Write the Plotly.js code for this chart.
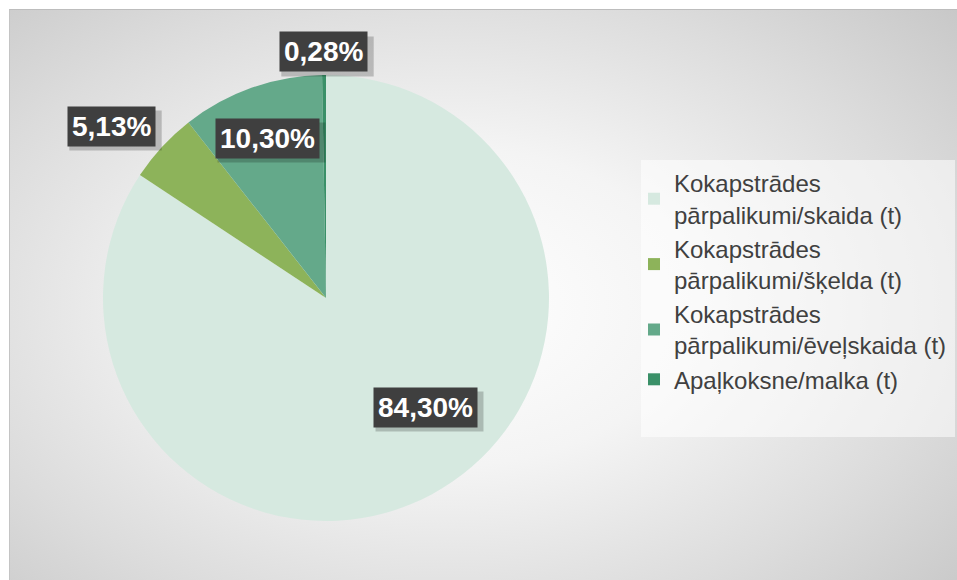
<!DOCTYPE html>
<html>
<head>
<meta charset="utf-8">
<script src="https://cdn.plot.ly/plotly-3.0.1.min.js"></script>
<style>
  html, body { margin: 0; padding: 0; background: #ffffff; }
  #panel {
    position: absolute; left: 9px; top: 9px; width: 948px; height: 571px;
    box-sizing: border-box; border-top: 1px solid #bdbdbd; border-left: 1px solid #c4c4c4;
    background: radial-gradient(ellipse 75% 80% at 46% 52%, #ffffff 0%, #f4f4f4 35%, #dcdcdc 70%, #c6c6c6 100%);
  }
  #chart { position: absolute; left: 0; top: 0; width: 957px; height: 580px; }
</style>
</head>
<body>
<div id="panel"></div>
<div id="chart"></div>
<script>
// ---- data ----
const categories = [
  "Kokapstrādes<br>pārpalikumi/skaida (t)",
  "Kokapstrādes<br>pārpalikumi/šķelda (t)",
  "Kokapstrādes<br>pārpalikumi/ēveļskaida (t)",
  "Apaļkoksne/malka (t)"
];
const shares = [84.30, 5.13, 10.30, 0.28];

// ---- styles / layout positions (not data) ----
const sliceColors = ["#d6e9e0", "#8db35a", "#64a98a", "#3a9068"];
// label box centres in pixels (x from left, y from top)
const labelPx = [[425, 407], [111, 126], [267, 138], [323, 52]];
const labelSize = 28;

const W = 957, H = 580;
const fmt = v => v.toFixed(2).replace('.', ',') + '%';

const trace = {
  type: 'pie',
  labels: categories,
  values: shares,
  sort: false,
  direction: 'clockwise',
  rotation: 0,
  marker: { colors: sliceColors, line: { width: 0 } },
  textinfo: 'none',
  hoverinfo: 'skip',
  domain: { x: [103 / W, 549 / W], y: [(H - 521) / H, (H - 75) / H] }
};

const annotations = [];
const shapes = [{
  type: 'rect', xref: 'paper', yref: 'paper', layer: 'below',
  x0: 641 / W, x1: 955 / W, y0: 1 - 437 / H, y1: 1 - 160 / H,
  fillcolor: 'rgba(255,255,255,0.55)', line: { width: 0 }
}];

shares.forEach((v, i) => {
  const s = fmt(v);
  const x = labelPx[i][0] / W, y = 1 - labelPx[i][1] / H;
  // approximate box size for the drop shadow
  const digits = s.replace(/[^0-9]/g, '').length;
  const w = labelSize * (0.556 * digits + 0.278 + 0.889) + 12;
  const h = 39;
  shapes.push({
    type: 'rect', xref: 'paper', yref: 'paper', layer: 'above',
    xsizemode: 'pixel', ysizemode: 'pixel', xanchor: x, yanchor: y,
    x0: -w / 2 + 4, x1: w / 2 + 5, y0: -h / 2 - 5, y1: h / 2 - 4,
    fillcolor: 'rgba(0,0,0,0.2)', line: { width: 0 }
  });
  annotations.push({
    xref: 'paper', yref: 'paper', x: x, y: y, xanchor: 'center', yanchor: 'middle',
    showarrow: false, borderpad: 4,
    text: '<b>' + s + '</b>',
    font: { family: 'Liberation Sans, Arial, sans-serif', size: labelSize, color: '#ffffff' },
    bgcolor: '#3f3f3f'
  });
});

const layout = {
  width: W, height: H,
  margin: { l: 0, r: 0, t: 0, b: 0 },
  paper_bgcolor: 'rgba(0,0,0,0)',
  plot_bgcolor: 'rgba(0,0,0,0)',
  showlegend: true,
  legend: {
    x: 634 / W, y: 1 - 161 / H, xanchor: 'left', yanchor: 'top',
    bgcolor: 'rgba(0,0,0,0)', borderwidth: 0,
    font: { family: 'Liberation Sans, Arial, sans-serif', size: 24, color: '#404040' },
    traceorder: 'normal'
  },
  shapes: shapes,
  annotations: annotations
};

Plotly.newPlot('chart', [trace], layout, { displayModeBar: false, staticPlot: true });
</script>
</body>
</html>
